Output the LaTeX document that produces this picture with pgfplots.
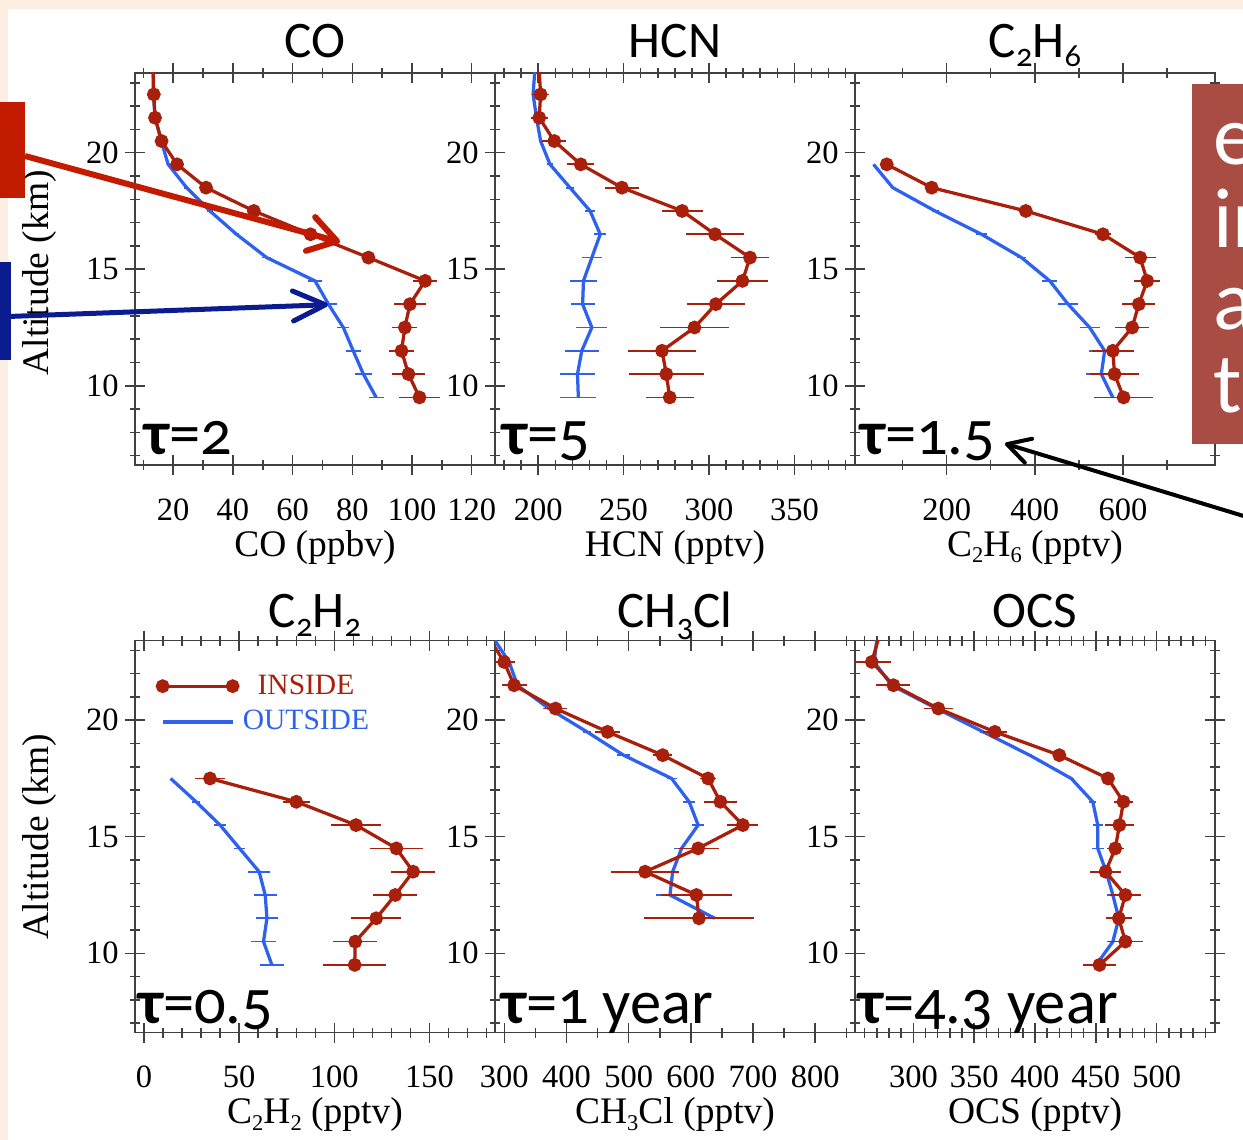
\documentclass[border=0pt]{standalone}
\usepackage{fontspec}
\setmainfont{Liberation Serif}
\usepackage{pgfplots}
\pgfplotsset{compat=1.18}
\usetikzlibrary{arrows.meta}
\newfontfamily\calfont{Carlito}[Numbers=OldStyle]
\definecolor{inred}{HTML}{A8200C}
\definecolor{outblue}{HTML}{2E62EE}
\definecolor{annred}{HTML}{C21B00}
\definecolor{annnavy}{HTML}{0A1C8F}
\definecolor{annbrown}{HTML}{A84C44}
\definecolor{peach}{HTML}{FDEEE2}
\definecolor{axisgray}{HTML}{404040}
\newcommand\tfont{\calfont\fontsize{20.5}{24}\selectfont}
\newcommand\taufont{\calfont\fontsize{25}{30}\selectfont}
\newcommand\tauchar{{\bfseries τ}}
\newcommand\sub[1]{\raisebox{-3.5pt}{\fontsize{13}{13}\selectfont #1}}
\newcommand\lsub[1]{\raisebox{-2.5pt}{\fontsize{9}{9}\selectfont #1}}

\pgfplotsset{
  panel/.style={
    scale only axis, width=144pt, height=156.8pt, anchor=south west,
    ymin=6.6, ymax=23.42,
    ytick={10,15,20}, minor ytick={7,...,23},
    tick align=center,
    major tick length=8pt, minor tick length=4pt,
    axis line style={draw=axisgray, line width=0.6pt},
    tick style={draw=axisgray, line width=0.6pt},
    /pgf/number format/assume math mode=true,
    tick label style={font=\fontsize{13}{15}\selectfont},
    label style={font=\fontsize{15}{18}\selectfont},
    xticklabel style={yshift=-6pt},
    yticklabel style={xshift=1pt},
    xlabel style={at={(axis description cs:0.5,-0.21)}, anchor=center},
    ylabel style={at={(axis description cs:-0.265,0.49)}, anchor=center},
  },
  inside/.style={color=inred, line width=1.3pt, mark=*, mark size=2.1pt,
    error bars/.cd, x dir=both, x explicit, error mark=none,
    error bar style={line width=0.7pt}},
  outside/.style={color=outblue, line width=1.3pt, no markers,
    error bars/.cd, x dir=both, x explicit, error mark=none,
    error bar style={line width=0.7pt}},
}

\begin{document}
\begin{tikzpicture}
\path[use as bounding box] (0,0) rectangle (497.2pt,455.6pt);
\clip (0,0) rectangle (497.2pt,455.6pt);
\begin{scope}[x=0.4pt,y=-0.4pt,yshift=455.6pt]
  \fill[peach] (-10,-10) rectangle (1260,1150);
  \fill[white] (8,9) rectangle (1260,1150);
\end{scope}

% ---- CO
\begin{axis}[panel, at={(54pt,269.6pt)},
  xmin=7.2, xmax=127.8, xtick={20,40,...,120}, minor xtick={10,30,...,130},
  xlabel={CO (ppbv)}, ylabel={Altitude (km)}]
\addplot[outside] table[x=x,y=y,x error=e] {
x y e
13.3 23.5 0
13.3 22.5 0
14.0 21.5 0
16.0 20.5 0.5
18.3 19.5 0.5
24.5 18.5 0.8
32.3 17.5 1
41.2 16.5 1
51.3 15.5 1.5
67.5 14.5 2.2
72.0 13.5 2.8
77.0 12.5 2
80.3 11.5 2.5
83.7 10.5 2.8
88.0 9.5 2.5
};
\addplot[inside] table[x=x,y=y,x error=e] {
x y e
13.3 23.5 0
13.5 22.5 0.8
13.9 21.5 0.8
16.1 20.5 1
21.3 19.5 1
31.0 18.5 1
47.0 17.5 1.2
66.0 16.5 1.5
85.4 15.5 2
104.4 14.5 4
99.3 13.5 5.5
97.6 12.5 4.2
96.5 11.5 4.2
98.8 10.5 5.5
102.5 9.5 7
};
\end{axis}

% ---- HCN
\begin{axis}[panel, at={(198pt,269.6pt)},
  xmin=174.7, xmax=385.5, xtick={200,250,...,350}, minor xtick={180,190,...,380},
  xlabel={HCN (pptv)}]
\addplot[outside] table[x=x,y=y,x error=e] {
x y e
198 23.5 0
197 22.5 0
199 21.5 0
201.4 20.5 1
206.9 19.5 2
218.6 18.5 2.5
230.4 17.5 3
236.3 16.5 3.5
231.4 15.5 6
226.5 14.5 8
226.0 13.5 7
231.4 12.5 9
225.5 11.5 10
223.0 10.5 10.5
223.5 9.5 10.5
};
\addplot[inside] table[x=x,y=y,x error=e] {
x y e
200.6 23.5 0
201.4 22.5 5
200.6 21.5 5
209.4 20.5 7
224.9 19.5 8
249.0 18.5 10
284.3 17.5 12
303.5 16.5 17
324.0 15.5 11
319.6 14.5 15
304.0 13.5 17
291.5 12.5 20
272.5 11.5 20
275.0 10.5 22
277.0 9.5 14
};
\end{axis}

% ---- C2H6
\begin{axis}[panel, at={(342pt,269.6pt)},
  xmin=-8, xmax=809, xtick={200,400,600}, minor xtick={100,300,500,700},
  xlabel={C\lsub{2}H\lsub{6} (pptv)}]
\addplot[outside] table[x=x,y=y,x error=e] {
x y e
34.0 19.5 0
77.7 18.5 0
173.6 17.5 8
279.0 16.5 12
369.8 15.5 10
434.0 14.5 17
475.5 13.5 22
524.5 12.5 23
558.5 11.5 35
551.0 10.5 35
577.0 9.5 0
};
\addplot[inside] table[x=x,y=y,x error=e] {
x y e
64.0 19.5 2
166.0 18.5 10
379.6 17.5 15
554.7 16.5 18
639.2 15.5 35
655.0 14.5 30
636.0 13.5 37
621.0 12.5 39
577.0 11.5 48
581.0 10.5 56
601.5 9.5 67
};
\end{axis}

% ---- C2H2
\begin{axis}[panel, at={(54pt,42.6pt)},
  xmin=-4.7, xmax=184.4, xtick={0,50,...,150}, minor xtick={10,20,...,180},
  xlabel={C\lsub{2}H\lsub{2} (pptv)}, ylabel={Altitude (km)},
  ylabel style={at={(axis description cs:-0.265,0.5)}},
  legend style={at={(axis description cs:0.04,0.94)}, anchor=north west,
    draw=none, fill=none, font=\fontsize{11.8}{14}\selectfont, row sep=1pt},
  legend image code/.code={\draw[#1] plot coordinates {(0pt,0pt) (28pt,0pt)};}]
\addplot[inside] table[x=x,y=y,x error=e] {
x y e
34.7 17.5 8
80.0 16.5 7
111.4 15.5 13
132.6 14.5 14
141.4 13.5 11.7
132.0 12.5 11.6
122.0 11.5 13
111.0 10.5 11.6
110.7 9.5 16.6
};
\addlegendentry{\textcolor{inred}{INSIDE}}
\addplot[outside] table[x=x,y=y,x error=e] {
x y e
14.0 17.5 0
27.4 16.5 2
40.0 15.5 3
50.2 14.5 3
60.5 13.5 5.7
63.7 12.5 6
64.6 11.5 6
62.8 10.5 6.4
67.2 9.5 6.4
};
\addlegendentry{\textcolor{outblue}{OUTSIDE}}
\end{axis}

% ---- CH3Cl
\begin{axis}[panel, at={(198pt,42.6pt)},
  xmin=285, xmax=864, xtick={300,400,...,800}, minor xtick={300,350,...,850},
  xlabel={CH\lsub{3}Cl (pptv)}]
\addplot[outside] table[x=x,y=y,x error=e] {
x y e
283.0 23.5 0
307.7 22.5 3
321.0 21.5 3
371.7 20.5 10
433.0 19.5 6
491.7 18.5 10
569.0 17.5 8
597.3 16.5 10
611.7 15.5 10
585.0 14.5 12
570.7 13.5 0
566.4 12.5 22
638.4 11.5 0
};
\addplot[inside] table[x=x,y=y,x error=e] {
x y e
276.0 23.5 0
299.7 22.5 17
315.7 21.5 20
382.4 20.5 19
466.0 19.5 20
554.7 18.5 15
627.7 17.5 13
647.5 16.5 27
683.7 15.5 25
611.7 14.5 33
526.4 13.5 55
609.0 12.5 57
613.0 11.5 89
};
\end{axis}

% ---- OCS
\begin{axis}[panel, at={(342pt,42.6pt)},
  xmin=252, xmax=548, xtick={300,350,...,500}, minor xtick={260,270,...,540},
  xlabel={OCS (pptv)}]
\addplot[outside] table[x=x,y=y,x error=e] {
x y e
270.0 23.5 0
267.8 22.5 0
282.0 21.5 0
319.0 20.5 2
357.4 19.5 3
395.6 18.5 2
429.8 17.5 2
447.5 16.5 3
451.6 15.5 4
451.6 14.5 5
458.5 13.5 3
464.0 12.5 5
468.9 11.5 5
464.0 10.5 5
450.3 9.5 2
};
\addplot[inside] table[x=x,y=y,x error=e] {
x y e
271.3 23.5 0
265.8 22.5 16
283.6 21.5 14
320.5 20.5 12
367.0 19.5 10
420.0 18.5 3
460.0 17.5 3
472.7 16.5 8
469.4 15.5 12
466.0 14.5 7
458.0 13.5 13
474.3 12.5 12.6
468.9 11.5 10.6
474.3 10.5 14.7
453.0 9.5 13.7
};
\end{axis}

% ---- titles, lifetimes and slide annotations
\begin{scope}[x=0.4pt,y=-0.4pt,yshift=455.6pt]
  \node[anchor=base, inner sep=0pt, font=\tfont] at (315,58) {CO};
  \node[anchor=base, inner sep=0pt, font=\tfont] at (675,58) {HCN};
  \node[anchor=base, inner sep=0pt, font=\tfont] at (1035,58) {C\sub{2}H\sub{6}};
  \node[anchor=base, inner sep=0pt, font=\tfont] at (315,628) {C\sub{2}H\sub{2}};
  \node[anchor=base, inner sep=0pt, font=\tfont] at (675,628) {CH\sub{3}Cl};
  \node[anchor=base, inner sep=0pt, font=\tfont] at (1035,628) {OCS};

  \node[anchor=base west, inner sep=0pt, font=\taufont] at (144,455) {\tauchar=2};
  \node[anchor=base west, inner sep=0pt, font=\taufont] at (502,455) {\tauchar=5};
  \node[anchor=base west, inner sep=0pt, font=\taufont] at (860,455) {\tauchar=1.5};
  \node[anchor=base west, inner sep=0pt, font=\taufont] at (138,1024) {\tauchar=0.5};
  \node[anchor=base west, inner sep=0pt, font=\taufont] at (501,1024) {\tauchar=1 year};
  \node[anchor=base west, inner sep=0pt, font=\taufont] at (858,1024) {\tauchar=4.3 year};

  \fill[annred] (-5,102) rectangle (25,198.5);
  \fill[annnavy] (-5,262.5) rectangle (11,360.5);
  \draw[annred, line width=2.4pt, -{Straight Barb[length=11pt,width=14pt,round]}] (25,156) -- (340,242);
  \draw[annnavy, line width=2pt, -{Straight Barb[length=13pt,width=12pt,round]}] (11,316.4) -- (328,304.7);

  \fill[annbrown] (1192,83.6) rectangle (1260,443.6);
  \begin{scope}[every node/.style={anchor=base west, inner sep=0pt, text=white,
      font=\calfont\fontsize{34}{40}\selectfont}]
    \node at (1213,165) {e};
    \node at (1213,248) {in};
    \node at (1213,330) {a};
    \node at (1213,413) {to};
  \end{scope}
  \draw[black, line width=1.6pt, -{Straight Barb[length=9pt,width=10pt,round]}] (1270,524) -- (1005,443.6);
\end{scope}
\end{tikzpicture}
\end{document}
